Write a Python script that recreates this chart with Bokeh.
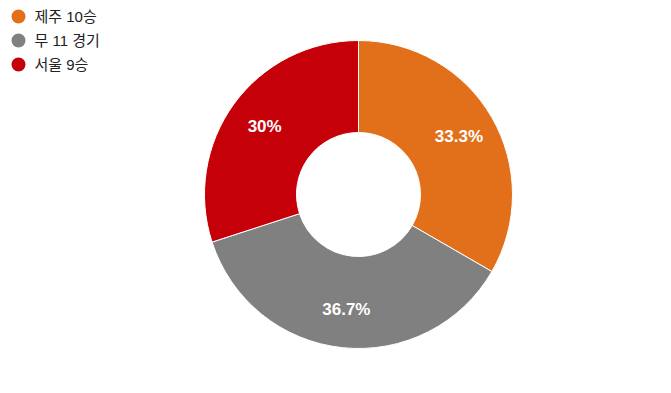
import math
from bokeh.plotting import figure
from bokeh.models import ColumnDataSource, Range1d
from bokeh.core.properties import value
from bokeh.embed import file_html
from bokeh.resources import INLINE

categories = ["제주 10승", "무 11 경기", "서울 9승"]
counts = [10, 11, 9]
pct_labels = ["33.3%", "36.7%", "30%"]
colors = ["#e2701b", "#808080", "#c60009"]

W, H = 655, 377
cx, cy = 358, 183
r_out, r_in, r_lab = 154, 62, 116

total = sum(counts)
starts, ends, lx, ly = [], [], [], []
acc = 0.0
for c in counts:
    a0 = math.pi / 2 - 2 * math.pi * acc / total
    a1 = math.pi / 2 - 2 * math.pi * (acc + c) / total
    starts.append(a0)
    ends.append(a1)
    mid = (a0 + a1) / 2
    lx.append(cx + r_lab * math.cos(mid))
    ly.append(cy + r_lab * math.sin(mid))
    acc += c

src = ColumnDataSource(dict(start=starts, end=ends, color=colors, lx=lx, ly=ly, lab=pct_labels))

p = figure(width=W, height=H, output_backend="svg", toolbar_location=None,
           x_range=Range1d(0, W), y_range=Range1d(0, H), min_border=0)
p.axis.visible = False
p.grid.visible = False
p.outline_line_color = None
p.background_fill_color = "white"

p.annular_wedge(x=cx, y=cy, inner_radius=r_in, outer_radius=r_out,
                start_angle="start", end_angle="end", direction="clock",
                fill_color="color", line_color="white", line_width=1, source=src)

p.text(x="lx", y="ly", text="lab", source=src, text_color="white",
       text_font=value("Liberation Sans"), text_font_style="bold",
       text_font_size="17px", text_align="center", text_baseline="middle")

leg_y = [361 - 24 * i for i in range(len(categories))]
leg_src = ColumnDataSource(dict(x=[18] * len(categories), tx=[34] * len(categories),
                                y=leg_y, name=categories, color=colors))
p.scatter(x="x", y="y", size=14, fill_color="color", line_color=None, source=leg_src)
p.text(x="tx", y="y", text="name", source=leg_src, text_color="#222222",
       text_font=value("Liberation Sans, Noto Sans CJK KR"), text_font_size="15px",
       text_align="left", text_baseline="middle")

open("out.html", "w").write(file_html(p, INLINE))
